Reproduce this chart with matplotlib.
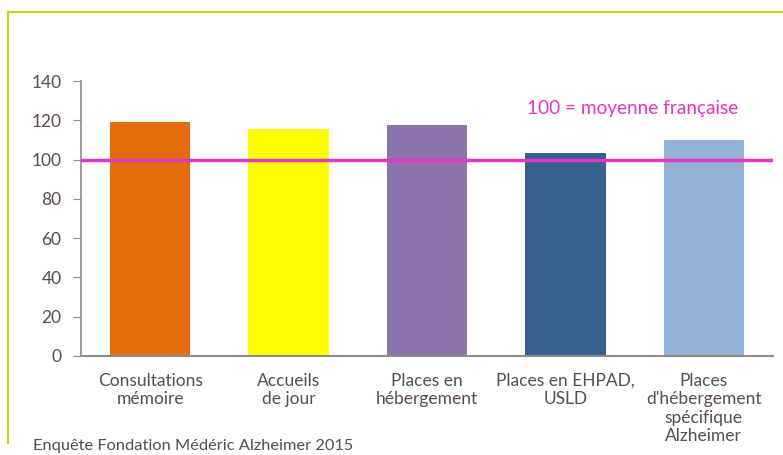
import matplotlib
matplotlib.use("Agg")
import matplotlib.pyplot as plt
from matplotlib.lines import Line2D

categories = ["Consultations\nmémoire", "Accueils\nde jour", "Places en\nhébergement",
              "Places en EHPAD,\nUSLD", "Places\nd'hébergement\nspécifique\nAlzheimer"]
values = [119, 115.5, 117.5, 103.5, 110]
colors = ["#E46C0A", "#FFFF00", "#8B74AC", "#35608F", "#95B3D7"]
yticks = [0, 20, 40, 60, 80, 100, 120, 140]
reference = 100

W, H = 783, 455
fig = plt.figure(figsize=(W/100, H/100), dpi=100)
plt.rcParams['font.family'] = ['Lato', 'DejaVu Sans']
txt = "#5B4B4B"

# axes: x from 81 to 773 px, y from 356 (0) to 81 (140)
ax = fig.add_axes([81/W, 1-356/H, (773-81)/W, (356-81)/H])
x = list(range(len(categories)))
ax.bar(x, values, width=0.58, color=colors, zorder=2)
ax.set_xlim(-0.5, len(categories)-0.5)
ax.set_ylim(0, 140)
ax.set_yticks(yticks)
ax.axhline(reference, color="#E633C8", lw=2.5, zorder=3)
for s in ["top", "right"]:
    ax.spines[s].set_visible(False)
ax.spines["left"].set_color("#8C8C8C")
ax.spines["bottom"].set_color("#8C8C8C")
ax.spines["left"].set_linewidth(1.2)
ax.spines["bottom"].set_linewidth(1.5)
ax.tick_params(axis="y", direction="out", length=6, color="#8C8C8C", labelsize=12.5, labelcolor=txt, pad=8)
ax.tick_params(axis="x", length=0, labelsize=12.5, labelcolor=txt, pad=12)
ax.set_xticks(x)
ax.set_xticklabels(categories, va="top", linespacing=1.2)
ax.text(2.72, 126, "100 = moyenne française", color="#E633C8", fontsize=13.7, ha="left", va="center")

# frame lines (top and left)
fig.add_artist(Line2D([8/W, 1], [1-12/H, 1-12/H], color="#C5D300", lw=1.5, transform=fig.transFigure))
fig.add_artist(Line2D([8/W, 8/W], [1-12/H, 1-443/H], color="#C5D300", lw=1.5, transform=fig.transFigure))

fig.text(33/W, 1-446/H, "Enquête Fondation Médéric Alzheimer 2015", color=txt, fontsize=11.8, ha="left", va="center")

fig.savefig("out.png", dpi=100)
